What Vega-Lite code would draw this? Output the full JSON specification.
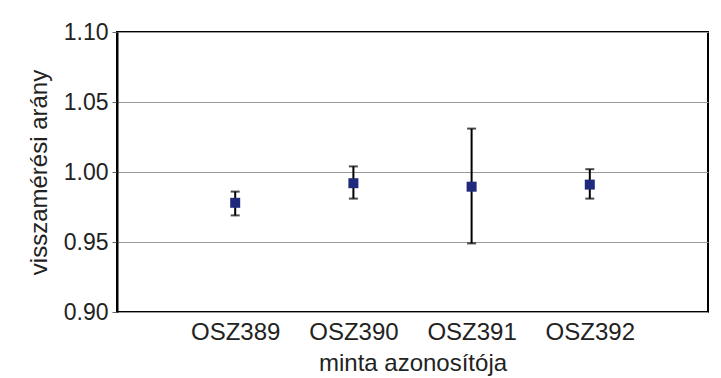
{
  "$schema": "https://vega.github.io/schema/vega-lite/v6.json",
  "width": 591,
  "height": 280,
  "autosize": {"type": "none"},
  "padding": {"left": 117, "top": 32, "right": 13, "bottom": 66},
  "background": "white",
  "config": {
    "view": {"stroke": "black", "strokeWidth": 2},
    "font": "Liberation Sans",
    "axis": {"labelFont": "Liberation Sans", "titleFont": "Liberation Sans", "labelColor": "#222", "titleColor": "#222", "titleFontWeight": "normal"}
  },
  "data": {
    "values": [
      {"minta": "OSZ389", "arany": 0.978, "also": 0.969, "felso": 0.986},
      {"minta": "OSZ390", "arany": 0.992, "also": 0.981, "felso": 1.004},
      {"minta": "OSZ391", "arany": 0.9895, "also": 0.949, "felso": 1.031},
      {"minta": "OSZ392", "arany": 0.991, "also": 0.981, "felso": 1.002}
    ]
  },
  "encoding": {
    "x": {
      "field": "minta", "type": "nominal",
      "scale": {"type": "point", "padding": 1},
      "axis": {"title": "minta azonosítója", "labelAngle": 0, "labelFontSize": 24, "titleFontSize": 24, "ticks": false, "domain": false, "labelPadding": 8, "titlePadding": 7}
    }
  },
  "layer": [
    {
      "mark": {"type": "rule", "color": "black", "strokeWidth": 2},
      "encoding": {
        "y": {"field": "also", "type": "quantitative",
          "scale": {"domain": [0.9, 1.1], "nice": false, "zero": false},
          "axis": {"title": "visszamérési arány", "values": [0.9, 0.95, 1.0, 1.05, 1.1], "format": ".2f", "labelFontSize": 23, "titleFontSize": 24, "gridColor": "#999", "gridWidth": 1, "domainColor": "black", "domainWidth": 2, "tickColor": "#666", "tickSize": 5, "labelPadding": 4, "titlePadding": 12}},
        "y2": {"field": "felso"}
      }
    },
    {
      "mark": {"type": "tick", "color": "black", "thickness": 2, "size": 9},
      "encoding": {"y": {"field": "felso", "type": "quantitative"}}
    },
    {
      "mark": {"type": "tick", "color": "black", "thickness": 2, "size": 9},
      "encoding": {"y": {"field": "also", "type": "quantitative"}}
    },
    {
      "mark": {"type": "square", "filled": true, "color": "#1f2a7c", "opacity": 1, "size": 100},
      "encoding": {"y": {"field": "arany", "type": "quantitative"}}
    }
  ]
}
